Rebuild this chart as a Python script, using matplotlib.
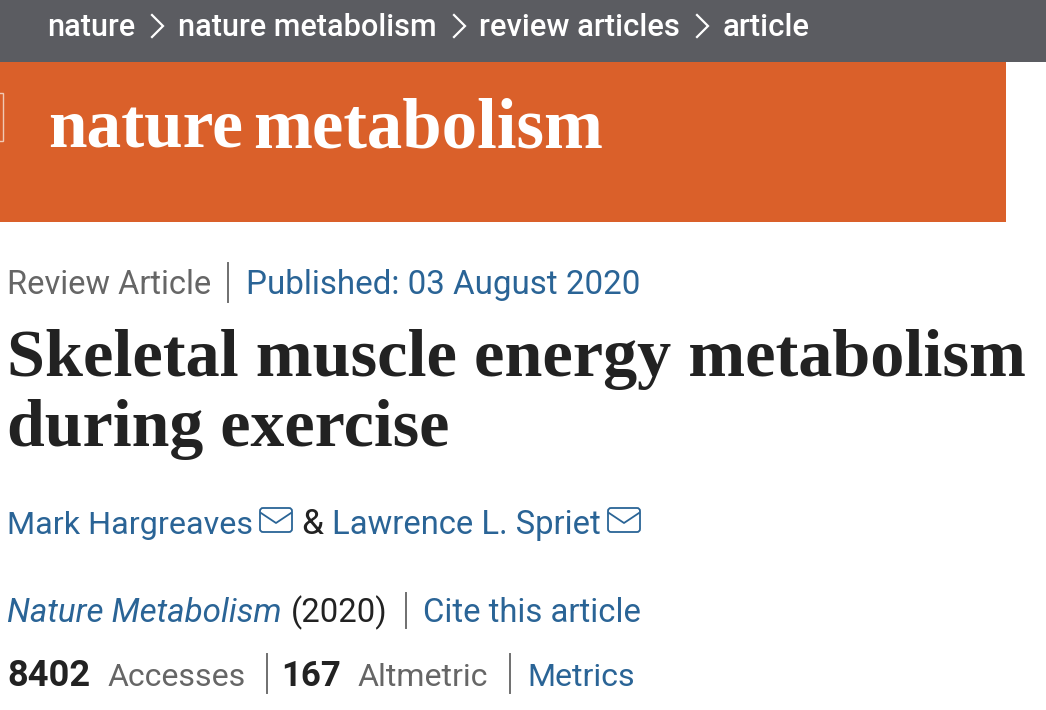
#!/usr/bin/env python3
"""Article header from nature metabolism, drawn on a pixel-sized axes."""

import matplotlib

matplotlib.use("Agg")
import matplotlib.pyplot as plt
from matplotlib.patches import FancyBboxPatch, Rectangle

W, H = 1046, 710

SANS = ["Roboto", "DejaVu Sans"]
SERIF = ["Liberation Serif", "DejaVu Serif"]

GREY_BAR = "#5b5c61"
ORANGE = "#da602a"
BLUE = "#2a6496"
DARK = "#222222"
MUTED = "#666666"
RULE = "#6f6f6f"

CRUMBS = ["nature", "nature metabolism", "review articles", "article"]
JOURNAL = ["nature", "metabolism"]
TITLE_LINES = ["Skeletal muscle energy metabolism", "during exercise"]
ARTICLE_TYPE = "Review Article"
PUBLISHED = "Published: 03 August 2020"
AUTHORS = ["Mark Hargreaves", "Lawrence L. Spriet"]
CITATION = ["Nature Metabolism", "(2020)", "Cite this article"]
ACCESSES = ["8402", "Accesses"]
ALTMETRIC = ["167", "Altmetric"]
METRICS = "Metrics"

fig = plt.figure(figsize=(W / 100, H / 100), dpi=100)
ax = fig.add_axes([0, 0, 1, 1])
ax.set_xlim(0, W)
ax.set_ylim(H, 0)
ax.axis("off")


def fit_text(x0, x1, y, s, **kw):
    """Put s on baseline y and scale the font so it spans x0..x1 pixels."""
    t = ax.text(x0, y, s, va="baseline", ha="left", fontsize=20, **kw)
    width = t.get_window_extent(fig.canvas.get_renderer()).width
    t.set_fontsize(20 * (x1 - x0) / width)
    return t


def chevron(x, y):
    ax.plot([x, x + 11, x], [y - 11, y, y + 11], color="white", lw=1.6,
            solid_joinstyle="miter")


def divider(x, y0, y1):
    ax.plot([x, x], [y0, y1], color=RULE, lw=1.4)


def mail_icon(x0, x1, y0, y1):
    ax.add_patch(FancyBboxPatch((x0 + 2, y0 + 2), x1 - x0 - 4, y1 - y0 - 4,
                                boxstyle="round,pad=2,rounding_size=3",
                                fc="none", ec=BLUE, lw=1.3))
    mid = (x0 + x1) / 2
    ax.plot([x0 + 1, mid, x1 - 1], [y0 + 5, y0 + 15, y0 + 5], color=BLUE, lw=1.3)


# header bands
ax.add_patch(Rectangle((0, 0), W, 62, fc=GREY_BAR, ec="none"))
ax.add_patch(Rectangle((0, 62), 1006, 159.5, fc=ORANGE, ec="none"))
ax.add_patch(Rectangle((-2, 93), 4.5, 48, fc="none", ec="#f0c9b4", lw=1))

# breadcrumb
crumb_spans = [(47, 135), (178, 436), (479, 680), (723, 810)]
for (x0, x1), s in zip(crumb_spans, CRUMBS):
    fit_text(x0, x1, 36, s, color="white", family=SANS, weight="medium")
for x in (152, 454, 697):
    chevron(x, 26)

# journal name
fit_text(48, 243, 147, JOURNAL[0], color="white", family=SERIF, weight="bold")
fit_text(253, 603, 147, JOURNAL[1], color="white", family=SERIF, weight="bold")

# type and date
fit_text(7, 211, 294, ARTICLE_TYPE, color=MUTED, family=SANS)
divider(228, 263, 302)
fit_text(246, 639, 294, PUBLISHED, color=BLUE, family=SANS)

# title
fit_text(7, 1027, 376, TITLE_LINES[0], color=DARK, family=SERIF, weight="bold")
fit_text(7, 449, 446, TITLE_LINES[1], color=DARK, family=SERIF, weight="bold")

# authors
fit_text(7, 252, 534, AUTHORS[0], color=BLUE, family=SANS)
mail_icon(260, 292, 508, 532)
fit_text(301, 323, 534, "&", color=DARK, family=SANS)
fit_text(332, 600, 534, AUTHORS[1], color=BLUE, family=SANS)
mail_icon(608, 640, 508, 532)

# citation
fit_text(7, 281, 622, CITATION[0], color=BLUE, family=SANS, style="italic")
fit_text(291, 387, 622, CITATION[1], color=DARK, family=SANS)
divider(406, 593, 628)
fit_text(423, 640, 622, CITATION[2], color=BLUE, family=SANS)

# metrics row
fit_text(7, 90, 686, ACCESSES[0], color=DARK, family=SANS, weight="bold")
fit_text(108, 245, 686, ACCESSES[1], color=MUTED, family=SANS)
divider(267, 654, 693)
# the leading 1 has wide side bearings, so the span runs past the ink
fit_text(281, 341, 686, ALTMETRIC[0], color=DARK, family=SANS, weight="bold")
fit_text(358, 488, 686, ALTMETRIC[1], color=MUTED, family=SANS)
divider(510, 654, 693)
fit_text(527, 634, 686, METRICS, color=BLUE, family=SANS)

fig.savefig("out.png", dpi=100, facecolor="white")
plt.close(fig)
